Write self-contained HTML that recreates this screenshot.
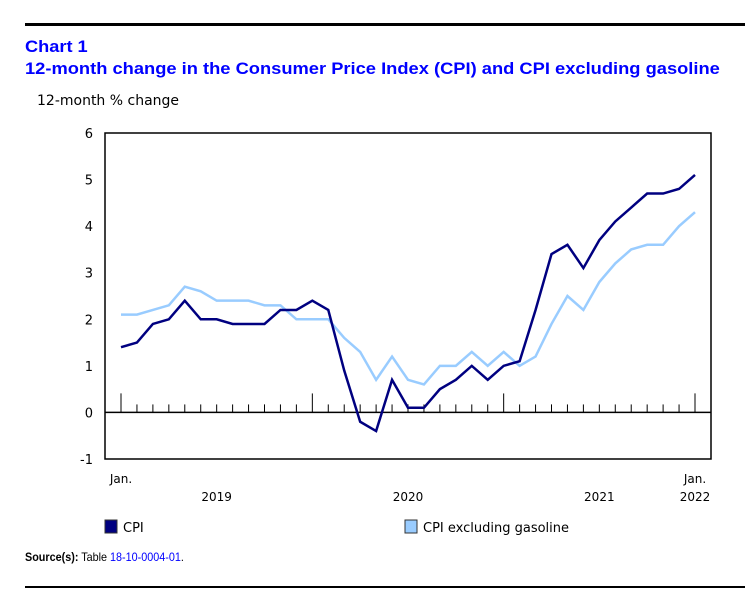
<!DOCTYPE html>
<html><head><meta charset="utf-8"><style>
body{margin:0;width:745px;height:613px;background:#fff;overflow:hidden;position:relative;font-family:"DejaVu Sans",Verdana,sans-serif}
.t{position:absolute;white-space:nowrap}
</style></head><body>
<div style="position:absolute;left:25px;top:23px;width:720px;height:3px;background:#000"></div>
<div class="t" style="left:25px;top:37px;font:bold 17px 'Liberation Sans',Arial,sans-serif;color:#0000ff;transform:scaleX(1.07);transform-origin:left">Chart 1</div>
<div class="t" style="left:25px;top:59px;font:bold 17px 'Liberation Sans',Arial,sans-serif;color:#0000ff;transform:scaleX(1.077);transform-origin:left">12-month change in the Consumer Price Index (CPI) and CPI excluding gasoline</div>
<div class="t" style="left:37px;top:93px;font-size:14px;color:#000">12-month % change</div>
<svg id="chart" width="745" height="613" style="position:absolute;left:0;top:0" font-family="DejaVu Sans, Verdana, sans-serif"></svg>
<div class="t" style="left:25px;top:550px;font:12px 'Liberation Sans',Arial,sans-serif;transform:scaleX(0.9);transform-origin:left"><b>Source(s):</b> Table <span style="color:#0000ff">18-10-0004-01</span>.</div>
<div style="position:absolute;left:25px;top:586px;width:720px;height:2px;background:#000"></div>
<script>
const cpi=[1.4,1.5,1.9,2.0,2.4,2.0,2.0,1.9,1.9,1.9,2.2,2.2,2.4,2.2,0.9,-0.2,-0.4,0.7,0.1,0.1,0.5,0.7,1.0,0.7,1.0,1.1,2.2,3.4,3.6,3.1,3.7,4.1,4.4,4.7,4.7,4.8,5.1];
const exGas=[2.1,2.1,2.2,2.3,2.7,2.6,2.4,2.4,2.4,2.3,2.3,2.0,2.0,2.0,1.6,1.3,0.7,1.2,0.7,0.6,1.0,1.0,1.3,1.0,1.3,1.0,1.2,1.9,2.5,2.2,2.8,3.2,3.5,3.6,3.6,4.0,4.3];
const yTicks=[-1,0,1,2,3,4,5,6];
const yearLabels=["2019","2020","2021","2022"];
const NS="http://www.w3.org/2000/svg",svg=document.getElementById('chart');
const L=105,R=711,T=133,B=459;
const x=i=>121+i*(695-121)/36;
const y=v=>B-(v+1)*(B-T)/7;
function mk(tag,a,parent){const e=document.createElementNS(NS,tag);for(const k in a)e.setAttribute(k,a[k]);(parent||svg).appendChild(e);return e;}
let e=mk('rect',{x:L,y:T,width:R-L,height:B-T,fill:'none',stroke:'#000','stroke-width':1.5});


yTicks.forEach(v=>{const t=mk('text',{x:93,y:y(v)+5,'text-anchor':'end','font-size':13});t.textContent=v;

});
e=mk('line',{x1:L,x2:R,y1:y(0),y2:y(0),stroke:'#000','stroke-width':1.5});


for(let i=0;i<=36;i++){const maj=i%12===0;const t=mk('line',{x1:x(i),x2:x(i),y1:y(0)-(maj?19:8),y2:y(0),stroke:'#000','stroke-width':1});

}
[[0,'Jan.'],[36,'Jan.']].forEach(([i,s])=>{const t=mk('text',{x:x(i),y:483,'text-anchor':'middle','font-size':12});t.textContent=s;

});
yearLabels.forEach((s,k)=>{const i=k<3?k*12+6:36;const t=mk('text',{x:x(i),y:501,'text-anchor':'middle','font-size':12});t.textContent=s;

});
function line(d,c,n){const p=mk('polyline',{points:d.map((v,i)=>x(i)+','+y(v)).join(' '),fill:'none',stroke:c,'stroke-width':2.5,'stroke-linejoin':'miter'});

}
line(exGas,'#99ccff','series-cpi-excluding-gasoline');
line(cpi,'#000080','series-cpi');
function leg(xp,c,s,n){const r=mk('rect',{x:xp,y:520,width:12,height:13,fill:c,stroke:'#333','stroke-width':1});


const t=mk('text',{x:xp+18,y:532,'font-size':13});t.textContent=s;

}
leg(105,'#000080','CPI','legend-cpi');
leg(405,'#99ccff','CPI excluding gasoline','legend-cpi-excluding-gasoline');
</script>
</body></html>
